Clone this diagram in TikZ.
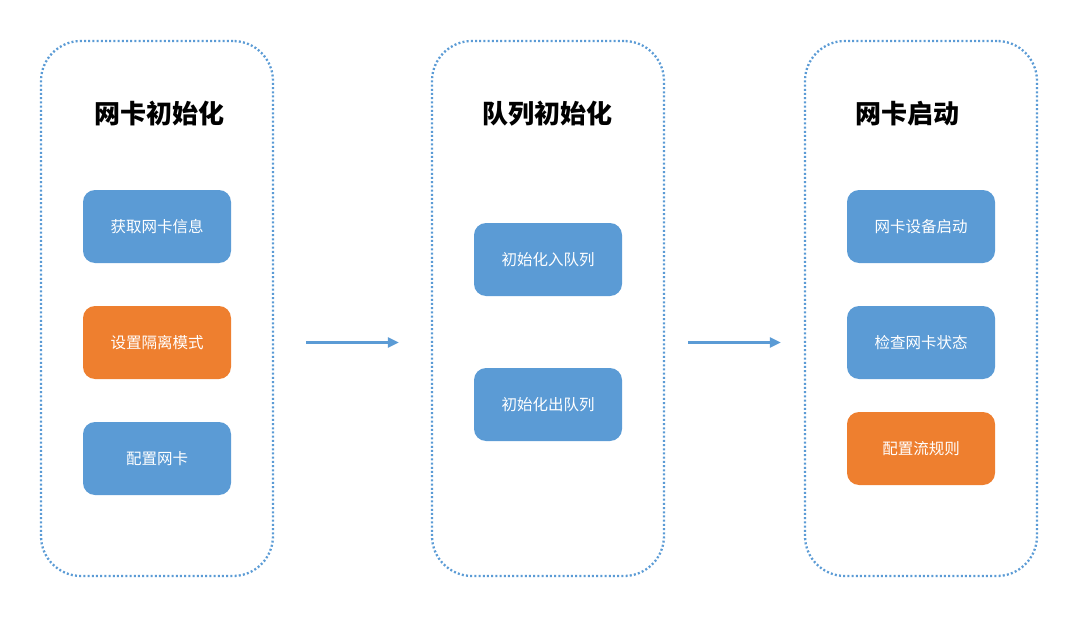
\documentclass[tikz,border=0pt]{standalone}
\usepackage{fontspec}
\setmainfont{Noto Sans CJK SC}
\usetikzlibrary{arrows.meta}
\definecolor{stepblue}{HTML}{5B9BD5}
\definecolor{steporange}{HTML}{EE7F2F}
\begin{document}
\begin{tikzpicture}[x=1pt,y=-1pt,
  stage/.style={draw=stepblue,line width=2.3pt,dash pattern=on 2pt off 2.2pt,
    rounded corners=40pt,minimum width=232pt,minimum height=535pt,inner sep=0pt},
  ttl/.style={font=\fontsize{26}{30}\selectfont\bfseries,inner sep=0pt},
  job/.style={fill=stepblue,rounded corners=12pt,minimum width=148pt,minimum height=73pt,
    inner sep=0pt,text=white,font=\fontsize{15.5}{18}\selectfont},
  hot/.style={job,fill=steporange},
  arr/.style={draw=stepblue,line width=2.2pt,-{Triangle[length=11pt,width=10pt]}}]
  \useasboundingbox (0,0) rectangle (1080,626);
  % three stages
  \node[stage] (c1) at (157,308.5) {};
  \node[stage] (c2) at (548,308.5) {};
  \node[stage] (c3) at (921,308.5) {};
  \node[ttl] (t1) at (159,114) {网卡初始化};
  \node[ttl] (t2) at (547,114) {队列初始化};
  \node[ttl] (t3) at (907,114) {网卡启动};
  % steps of each stage
  \node[job] (b11) at (157,226.5) {获取网卡信息};
  \node[hot] (b12) at (157,342.5) {设置隔离模式};
  \node[job] (b13) at (157,458.5) {配置网卡};
  \node[job] (b21) at (548,259.5) {初始化入队列};
  \node[job] (b22) at (548,404.5) {初始化出队列};
  \node[job] (b31) at (921,226.5) {网卡设备启动};
  \node[job] (b32) at (921,342.5) {检查网卡状态};
  \node[hot] (b33) at (921,448.5) {配置流规则};
  \draw[arr,shorten <=32pt,shorten >=32pt] (c1.east |- b12.center) -- (c2.west |- b12.center);
  \draw[arr,shorten <=23pt,shorten >=23pt] (c2.east |- b12.center) -- (c3.west |- b12.center);
\end{tikzpicture}
\end{document}
